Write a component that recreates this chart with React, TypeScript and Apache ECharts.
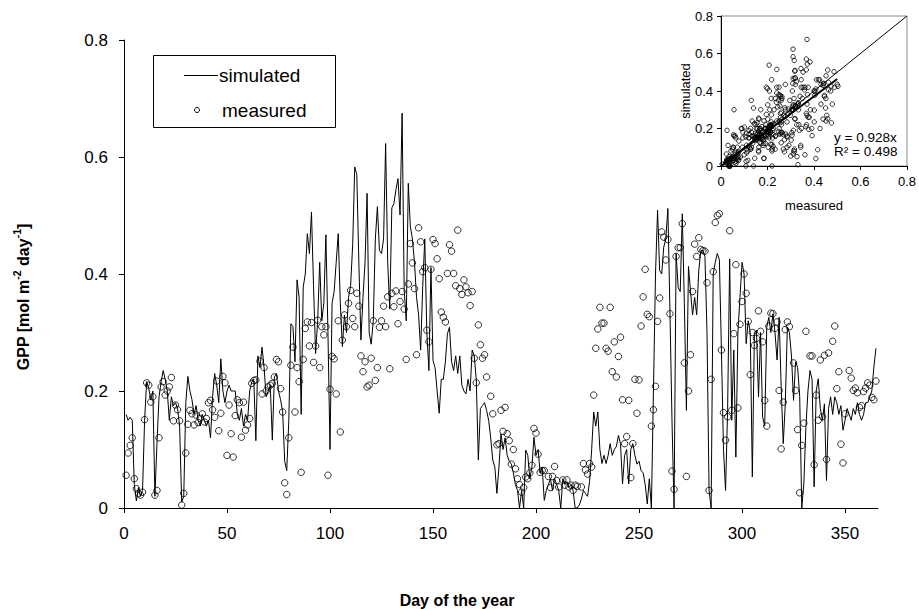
import React, { useEffect, useRef } from "react";
import * as echarts from "echarts";

// Daily values, day 1 .. 365
const simulated: number[] = [
  0.16, 0.15, 0.155, 0.15, 0.04, 0.012, 0.035, 0.02, 0.03, 0.15,
  0.216, 0.205, 0.185, 0.2, 0.02, 0.11, 0.19, 0.215, 0.235, 0.22,
  0.2, 0.15, 0.19, 0.175, 0.18, 0.17, 0.14, 0.01, 0.02, 0.18,
  0.225, 0.2, 0.185, 0.16, 0.175, 0.15, 0.14, 0.16, 0.15, 0.14,
  0.15, 0.12, 0.19, 0.23, 0.21, 0.18, 0.255, 0.2, 0.18, 0.2,
  0.21, 0.2, 0.2, 0.2, 0.16, 0.15, 0.17, 0.14, 0.16, 0.15,
  0.2, 0.215, 0.22, 0.115, 0.26, 0.24, 0.275, 0.24, 0.19, 0.2,
  0.21, 0.116, 0.224, 0.23, 0.2, 0.185, 0.165, 0.08, 0.064, 0.15,
  0.315, 0.31, 0.25, 0.39, 0.36, 0.16, 0.378, 0.4, 0.469, 0.435,
  0.506, 0.38, 0.264, 0.32, 0.42, 0.32, 0.35, 0.467, 0.3, 0.1,
  0.35, 0.37, 0.42, 0.469, 0.35, 0.276, 0.33, 0.3, 0.36, 0.38,
  0.45, 0.583, 0.57, 0.42, 0.287, 0.36, 0.42, 0.538, 0.3, 0.28,
  0.32, 0.46, 0.515, 0.44, 0.435, 0.46, 0.623, 0.42, 0.34, 0.513,
  0.52, 0.544, 0.563, 0.501, 0.675, 0.372, 0.32, 0.555, 0.481, 0.46,
  0.42, 0.36, 0.33, 0.27, 0.378, 0.46, 0.3, 0.235, 0.411, 0.252,
  0.24, 0.2, 0.162, 0.22, 0.22, 0.25, 0.298, 0.309, 0.25, 0.235,
  0.26, 0.23, 0.26, 0.21, 0.2, 0.195, 0.22, 0.2, 0.27, 0.26,
  0.22, 0.082, 0.17, 0.175, 0.18, 0.167, 0.15, 0.12, 0.082, 0.07,
  0.025, 0.07, 0.127, 0.1, 0.12, 0.09, 0.08, 0.075, 0.06, 0.04,
  0.03, 0.0, 0.03, 0.0, 0.099, 0.09, 0.05, 0.07, 0.121, 0.09,
  0.1, 0.06, 0.07, 0.013, 0.03, 0.04, 0.05, 0.03, 0.05, 0.04,
  0.03, 0.0, 0.05, 0.04, 0.045, 0.035, 0.04, 0.03, 0.0, 0.0,
  0.005, 0.015, 0.03, 0.025, 0.02, 0.045, 0.1, 0.164, 0.14, 0.164,
  0.1, 0.076, 0.09, 0.076, 0.09, 0.11, 0.09, 0.1, 0.105, 0.124,
  0.11, 0.041, 0.09, 0.1, 0.041, 0.1, 0.11, 0.09, 0.075, 0.08,
  0.064, 0.06, 0.04, 0.007, 0.05, 0.0, 0.2, 0.4, 0.509, 0.406,
  0.4, 0.446, 0.46, 0.512, 0.338, 0.15, 0.0, 0.435, 0.377, 0.37,
  0.503, 0.35, 0.167, 0.413, 0.37, 0.33, 0.36, 0.33, 0.406, 0.44,
  0.44, 0.43, 0.3, 0.03, 0.0, 0.4, 0.42, 0.435, 0.425, 0.27,
  0.1, 0.03, 0.168, 0.426, 0.15, 0.27, 0.087, 0.3, 0.36, 0.42,
  0.4, 0.281, 0.32, 0.3, 0.053, 0.3, 0.304, 0.19, 0.3, 0.155,
  0.14, 0.309, 0.326, 0.3, 0.332, 0.3, 0.253, 0.326, 0.207, 0.11,
  0.178, 0.309, 0.3, 0.26, 0.184, 0.25, 0.24, 0.19, 0.0, 0.041,
  0.138, 0.2, 0.235, 0.22, 0.036, 0.2, 0.221, 0.17, 0.15, 0.178,
  0.047, 0.17, 0.19, 0.16, 0.19, 0.18, 0.16, 0.175, 0.133, 0.15,
  0.17, 0.16, 0.15, 0.17, 0.16, 0.18, 0.16, 0.15, 0.16, 0.18,
  0.18, 0.19, 0.2, 0.241, 0.273,
];

const measured: (number | null)[] = [
  0.056, 0.094, 0.107, 0.12, 0.05, 0.033, 0.025, 0.022, 0.027, 0.151,
  0.214, 0.21, 0.181, 0.19, 0.022, 0.03, 0.12, 0.207, 0.216, 0.193,
  0.2, 0.207, 0.223, 0.149, 0.176, 0.168, 0.149, 0.005, 0.025, 0.094,
  0.143, 0.167, 0.161, 0.142, 0.159, 0.146, 0.153, 0.161, 0.147, 0.153,
  0.18, 0.184, 0.168, 0.155, 0.217, 0.132, 0.162, 0.225, 0.214, 0.09,
  0.176, 0.127, 0.087, 0.158, 0.185, 0.18, 0.121, 0.181, 0.133, 0.142,
  0.153, 0.213, 0.218, 0.219, null, 0.251, 0.195, 0.24, 0.2, 0.207,
  0.21, 0.213, 0.224, 0.254, 0.25, 0.204, 0.164, 0.043, 0.023, 0.12,
  0.244, 0.275, 0.164, 0.24, 0.216, 0.061, 0.254, 0.307, 0.318, 0.277,
  0.317, 0.249, 0.277, 0.321, 0.24, 0.31, 0.296, 0.31, 0.056, 0.203,
  0.259, 0.255, 0.195, 0.32, 0.13, 0.287, 0.33, 0.31, 0.35, 0.372,
  0.324, 0.31, 0.367, 0.345, 0.26, 0.233, 0.25, 0.207, 0.21, 0.256,
  0.32, 0.218, 0.24, 0.309, 0.32, 0.345, 0.31, 0.361, 0.238, 0.367,
  0.344, 0.371, 0.315, 0.353, 0.37, 0.34, 0.254, 0.383, 0.452, 0.419,
  0.375, 0.262, 0.479, 0.455, 0.404, 0.411, 0.304, 0.284, 0.408, 0.459,
  0.452, 0.426, 0.392, 0.335, 0.326, 0.318, 0.401, 0.45, 0.439, 0.401,
  0.38, 0.475, 0.375, 0.365, 0.39, 0.378, 0.368, 0.346, 0.37, 0.256,
  0.214, 0.313, 0.279, 0.256, 0.262, 0.224, null, 0.191, 0.161, null,
  0.108, 0.11, 0.167, 0.131, 0.172, 0.127, 0.115, 0.075, 0.1, 0.067,
  0.05, 0.04, 0.027, 0.035, 0.053, 0.05, 0.06, 0.073, 0.136, 0.128,
  0.092, 0.061, 0.064, 0.064, null, 0.054, 0.035, 0.054, 0.071, 0.047,
  0.036, null, 0.048, 0.039, 0.048, 0.036, 0.039, 0.03, 0.039, 0.037,
  null, 0.036, 0.076, 0.065, 0.058, 0.076, 0.07, 0.193, 0.273, 0.306,
  0.343, 0.316, 0.316, 0.273, 0.268, 0.343, 0.233, 0.284, 0.224, 0.259,
  0.292, 0.185, 0.11, 0.122, 0.184, 0.052, 0.11, 0.22, 0.162, 0.219,
  0.311, 0.361, 0.408, 0.331, 0.327, 0.14, 0.168, 0.208, 0.319, 0.359,
  0.472, 0.463, 0.424, 0.459, 0.332, 0.063, 0.032, 0.43, 0.445, 0.445,
  0.486, 0.248, 0.054, 0.2, 0.262, 0.37, 0.451, 0.43, 0.462, 0.442,
  0.44, 0.439, 0.385, 0.03, 0.22, 0.404, 0.488, 0.5, 0.503, 0.27,
  0.163, 0.116, 0.156, 0.474, 0.167, 0.298, 0.416, 0.171, 0.314, 0.353,
  0.4, 0.367, 0.319, 0.228, 0.3, 0.278, 0.29, 0.337, 0.302, 0.284,
  0.184, 0.14, 0.311, 0.333, 0.332, 0.307, 0.318, 0.201, 0.101, 0.181,
  0.305, 0.318, 0.31, null, 0.248, 0.201, 0.134, 0.026, 0.107, 0.145,
  0.302, null, 0.26, 0.26, 0.074, 0.193, 0.15, 0.253, 0.156, 0.261,
  0.083, 0.265, null, 0.285, 0.311, 0.204, 0.233, 0.109, 0.077, 0.161,
  null, 0.235, 0.222, 0.201, 0.205, 0.197, 0.172, 0.175, 0.199, 0.205,
  0.214, 0.21, 0.189, 0.185, 0.217,
];

const dayTicks = [0, 50, 100, 150, 200, 250, 300, 350];
const gppTicks = [0, 0.2, 0.4, 0.6, 0.8];
const insetTicks = [0, 0.2, 0.4, 0.6, 0.8];
const regressionSlope = 0.928;
const regressionR2 = 0.498;
const regressionXEnd = 0.5;
const identityLine = [0, 0.8];

const FONT = "'Liberation Sans', Arial, Helvetica, sans-serif";

const fmt = (v: number) => (v === 0 ? "0" : String(+v.toFixed(1)));

export default function App() {
  const ref = useRef<HTMLDivElement>(null);

  useEffect(() => {
    if (!ref.current) return;
    const chart = echarts.init(ref.current, null, { renderer: "svg" });

    const lineData = simulated.map((v, i) => [i + 1, v]);
    const scatterData = measured
      .map((v, i) => (v == null ? null : [i + 1, v]))
      .filter((d) => d !== null);
    const pairData = measured
      .map((m, i) => (m == null ? null : [m, simulated[i]]))
      .filter((d) => d !== null);

    const axisCommon = {
      type: "value" as const,
      axisLine: { show: true, lineStyle: { color: "#000", width: 1 } },
      axisTick: { show: true, lineStyle: { color: "#000", width: 1 } },
      splitLine: { show: false },
    };

    chart.setOption({
      animation: false,
      backgroundColor: "#fff",
      grid: [
        { left: 124, top: 40, width: 754, height: 468, containLabel: false },
        {
          left: 721,
          top: 16,
          width: 187,
          height: 150,
          show: true,
          borderColor: "#8c8c8c",
          borderWidth: 1,
          containLabel: false,
        },
      ],
      xAxis: [
        {
          ...axisCommon,
          gridIndex: 0,
          min: 0,
          max: 366,
          interval: 50,
          axisTick: { ...axisCommon.axisTick, length: 5, customValues: dayTicks },
          axisLabel: {
            color: "#000",
            fontSize: 17,
            fontFamily: FONT,
            margin: 17,
            customValues: dayTicks,
          },
        },
        {
          ...axisCommon,
          gridIndex: 1,
          min: 0,
          max: 0.8,
          interval: 0.2,
          axisTick: { ...axisCommon.axisTick, length: 4, customValues: insetTicks },
          axisLabel: {
            color: "#000",
            fontSize: 13,
            fontFamily: FONT,
            margin: 9,
            customValues: insetTicks,
            formatter: fmt,
          },
        },
      ],
      yAxis: [
        {
          ...axisCommon,
          gridIndex: 0,
          min: 0,
          max: 0.8,
          interval: 0.2,
          axisTick: { ...axisCommon.axisTick, length: 5, customValues: gppTicks },
          axisLabel: {
            color: "#000",
            fontSize: 17,
            fontFamily: FONT,
            margin: 16,
            customValues: gppTicks,
            formatter: fmt,
          },
        },
        {
          ...axisCommon,
          gridIndex: 1,
          min: 0,
          max: 0.8,
          interval: 0.2,
          axisTick: { ...axisCommon.axisTick, length: 4, customValues: insetTicks },
          axisLabel: {
            color: "#000",
            fontSize: 13,
            fontFamily: FONT,
            margin: 8,
            customValues: insetTicks,
            formatter: fmt,
          },
        },
      ],
      series: [
        {
          name: "simulated",
          type: "line",
          xAxisIndex: 0,
          yAxisIndex: 0,
          data: lineData,
          showSymbol: false,
          symbol: "none",
          lineStyle: { color: "#000", width: 1 },
          z: 3,
        },
        {
          name: "measured",
          type: "scatter",
          xAxisIndex: 0,
          yAxisIndex: 0,
          data: scatterData,
          symbol: "circle",
          symbolSize: 6.5,
          itemStyle: { color: "rgba(255,255,255,0)", borderColor: "#000", borderWidth: 1 },
          z: 4,
        },
        {
          name: "pairs",
          type: "scatter",
          xAxisIndex: 1,
          yAxisIndex: 1,
          data: pairData,
          symbol: "circle",
          symbolSize: 4.5,
          itemStyle: { color: "rgba(255,255,255,0)", borderColor: "#000", borderWidth: 1 },
          z: 4,
        },
        {
          name: "1:1",
          type: "line",
          xAxisIndex: 1,
          yAxisIndex: 1,
          data: [
            [identityLine[0], identityLine[0]],
            [identityLine[1], identityLine[1]],
          ],
          showSymbol: false,
          symbol: "none",
          lineStyle: { color: "#000", width: 1 },
          z: 5,
        },
        {
          name: "fit",
          type: "line",
          xAxisIndex: 1,
          yAxisIndex: 1,
          data: [
            [0, 0],
            [regressionXEnd, regressionSlope * regressionXEnd],
          ],
          showSymbol: false,
          symbol: "none",
          lineStyle: { color: "#000", width: 2 },
          z: 6,
        },
      ],
      graphic: [
        {
          type: "rect",
          shape: { x: 153.5, y: 55.5, width: 182, height: 72 },
          style: { fill: "#fff", stroke: "#000", lineWidth: 1 },
          z: 10,
        },
        {
          type: "line",
          shape: { x1: 184, y1: 75.5, x2: 218, y2: 75.5 },
          style: { stroke: "#000", lineWidth: 1 },
          z: 11,
        },
        {
          type: "text",
          x: 219,
          y: 75,
          style: {
            text: "simulated",
            fontSize: 19,
            fontFamily: FONT,
            fill: "#000",
            verticalAlign: "middle",
          },
          z: 11,
        },
        {
          type: "circle",
          shape: { cx: 197, cy: 110, r: 2.5 },
          style: { fill: "none", stroke: "#000", lineWidth: 1 },
          z: 11,
        },
        {
          type: "text",
          x: 222,
          y: 110,
          style: {
            text: "measured",
            fontSize: 19,
            fontFamily: FONT,
            fill: "#000",
            verticalAlign: "middle",
          },
          z: 11,
        },
        {
          type: "text",
          x: 21,
          y: 297,
          rotation: Math.PI / 2,
          style: {
            text: "{a|GPP [mol m}{s|-2}{a| day}{s|-1}{a|]}",
            textAlign: "center",
            verticalAlign: "middle",
            fill: "#000",
            rich: {
              a: { fontSize: 16, fontWeight: "bold", fontFamily: FONT, lineHeight: 20, verticalAlign: "bottom" },
              s: { fontSize: 10.5, fontWeight: "bold", fontFamily: FONT, lineHeight: 20, verticalAlign: "top" },
            },
          },
        },
        {
          type: "text",
          x: 457,
          y: 600,
          style: {
            text: "Day of the year",
            fontSize: 16,
            fontWeight: "bold",
            fontFamily: FONT,
            fill: "#000",
            textAlign: "center",
            verticalAlign: "middle",
          },
        },
        {
          type: "text",
          x: 685,
          y: 91,
          rotation: Math.PI / 2,
          style: {
            text: "simulated",
            fontSize: 13,
            fontFamily: FONT,
            fill: "#000",
            textAlign: "center",
            verticalAlign: "middle",
          },
        },
        {
          type: "text",
          x: 814,
          y: 205,
          style: {
            text: "measured",
            fontSize: 13,
            fontFamily: FONT,
            fill: "#000",
            textAlign: "center",
            verticalAlign: "middle",
          },
        },
        {
          type: "text",
          x: 834,
          y: 137,
          style: {
            text: "y = " + regressionSlope.toFixed(3) + "x",
            fontSize: 13.5,
            fontFamily: FONT,
            fill: "#000",
            verticalAlign: "middle",
          },
          z: 12,
        },
        {
          type: "text",
          x: 834,
          y: 151,
          style: {
            text: "R² = " + regressionR2.toFixed(3),
            fontSize: 13.5,
            fontFamily: FONT,
            fill: "#000",
            verticalAlign: "middle",
          },
          z: 12,
        },
      ],
    });

    return () => chart.dispose();
  }, []);

  return (
    <div
      ref={ref}
      style={{ position: "fixed", left: 0, top: 0, width: 919, height: 609, background: "#fff" }}
    />
  );
}
